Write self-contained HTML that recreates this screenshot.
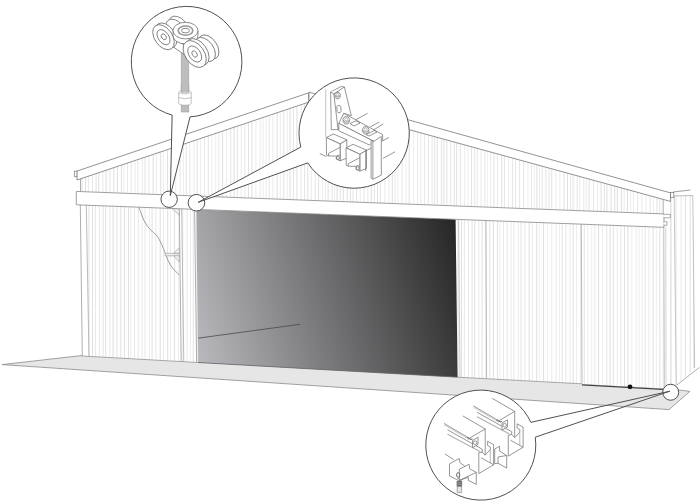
<!DOCTYPE html>
<html><head><meta charset="utf-8"><style>html,body{margin:0;padding:0;background:#fff;width:700px;height:503px;overflow:hidden}svg{display:block}</style></head>
<body>
<svg width="700" height="503" viewBox="0 0 700 503">
<defs><linearGradient id="door" gradientUnits="userSpaceOnUse" x1="150.6" y1="230.5" x2="449.5" y2="142.3"><stop offset="0" stop-color="#bebec2"/><stop offset="1" stop-color="#1e1d1d"/></linearGradient></defs>
<rect width="700" height="503" fill="#fff"/>
<polygon points="2.00,364.60 82.00,355.50 664.00,388.18 690.00,391.40 669.00,409.60" fill="#e6e6e6" stroke="#8a8a8a" stroke-width="0.8" stroke-linejoin="round"/>
<defs>
<clipPath id="cg"><polygon points="80.00,178.75 309.00,102.18 663.50,199.49 663.50,213.90 80.00,191.55"/></clipPath>
<clipPath id="cl"><polygon points="80.00,204.95 197.00,209.43 198.00,362.50 82.00,356.00"/></clipPath>
<clipPath id="cr"><polygon points="455.60,219.34 663.50,227.30 664.50,388.50 457.60,377.20"/></clipPath>
<clipPath id="ce"><polygon points="674.00,196.00 692.80,195.50 694.80,367.60 676.60,385.60 676.00,385.60"/></clipPath>
</defs>
<polygon points="80.00,178.75 309.00,102.18 663.50,199.49 663.50,213.90 80.00,191.55" fill="#fff"/>
<polygon points="80.00,204.95 197.00,209.43 198.00,362.50 82.00,356.00" fill="#fff"/>
<polygon points="455.60,219.34 663.50,227.30 664.50,388.50 457.60,377.20" fill="#fff"/>
<polygon points="674.00,196.00 692.80,195.50 694.80,367.60 676.60,385.60 676.00,385.60" fill="#fff"/>
<g clip-path="url(#cg)"><line x1="82.0" y1="90.0" x2="82.0" y2="230.0" stroke="#d6d6d6" stroke-width="0.7"/>
<line x1="85.5" y1="90.0" x2="85.5" y2="230.0" stroke="#d2d2d2" stroke-width="0.7"/>
<line x1="88.4" y1="90.0" x2="88.4" y2="230.0" stroke="#dedede" stroke-width="0.7"/>
<line x1="92.4" y1="90.0" x2="92.4" y2="230.0" stroke="#dedede" stroke-width="0.7"/>
<line x1="96.1" y1="90.0" x2="96.1" y2="230.0" stroke="#d6d6d6" stroke-width="0.7"/>
<line x1="98.7" y1="90.0" x2="98.7" y2="230.0" stroke="#d2d2d2" stroke-width="0.7"/>
<line x1="102.9" y1="90.0" x2="102.9" y2="230.0" stroke="#dedede" stroke-width="0.7"/>
<line x1="106.1" y1="90.0" x2="106.1" y2="230.0" stroke="#d2d2d2" stroke-width="0.7"/>
<line x1="109.9" y1="90.0" x2="109.9" y2="230.0" stroke="#dadada" stroke-width="0.7"/>
<line x1="113.8" y1="90.0" x2="113.8" y2="230.0" stroke="#d6d6d6" stroke-width="0.7"/>
<line x1="117.4" y1="90.0" x2="117.4" y2="230.0" stroke="#d2d2d2" stroke-width="0.7"/>
<line x1="121.6" y1="90.0" x2="121.6" y2="230.0" stroke="#d2d2d2" stroke-width="0.7"/>
<line x1="124.0" y1="90.0" x2="124.0" y2="230.0" stroke="#e6e6e6" stroke-width="0.7"/>
<line x1="127.5" y1="90.0" x2="127.5" y2="230.0" stroke="#dedede" stroke-width="0.7"/>
<line x1="131.3" y1="90.0" x2="131.3" y2="230.0" stroke="#dedede" stroke-width="0.7"/>
<line x1="135.1" y1="90.0" x2="135.1" y2="230.0" stroke="#e2e2e2" stroke-width="0.7"/>
<line x1="138.0" y1="90.0" x2="138.0" y2="230.0" stroke="#dedede" stroke-width="0.7"/>
<line x1="142.3" y1="90.0" x2="142.3" y2="230.0" stroke="#e2e2e2" stroke-width="0.7"/>
<line x1="145.1" y1="90.0" x2="145.1" y2="230.0" stroke="#d6d6d6" stroke-width="0.7"/>
<line x1="148.9" y1="90.0" x2="148.9" y2="230.0" stroke="#dedede" stroke-width="0.7"/>
<line x1="153.2" y1="90.0" x2="153.2" y2="230.0" stroke="#d2d2d2" stroke-width="0.7"/>
<line x1="156.4" y1="90.0" x2="156.4" y2="230.0" stroke="#e2e2e2" stroke-width="0.7"/>
<line x1="160.7" y1="90.0" x2="160.7" y2="230.0" stroke="#d2d2d2" stroke-width="0.7"/>
<line x1="163.4" y1="90.0" x2="163.4" y2="230.0" stroke="#e6e6e6" stroke-width="0.7"/>
<line x1="167.6" y1="90.0" x2="167.6" y2="230.0" stroke="#d2d2d2" stroke-width="0.7"/>
<line x1="171.5" y1="90.0" x2="171.5" y2="230.0" stroke="#e6e6e6" stroke-width="0.7"/>
<line x1="175.8" y1="90.0" x2="175.8" y2="230.0" stroke="#e2e2e2" stroke-width="0.7"/>
<line x1="180.1" y1="90.0" x2="180.1" y2="230.0" stroke="#dedede" stroke-width="0.7"/>
<line x1="183.5" y1="90.0" x2="183.5" y2="230.0" stroke="#e6e6e6" stroke-width="0.7"/>
<line x1="186.3" y1="90.0" x2="186.3" y2="230.0" stroke="#dadada" stroke-width="0.7"/>
<line x1="189.9" y1="90.0" x2="189.9" y2="230.0" stroke="#dedede" stroke-width="0.7"/>
<line x1="194.0" y1="90.0" x2="194.0" y2="230.0" stroke="#e2e2e2" stroke-width="0.7"/>
<line x1="197.2" y1="90.0" x2="197.2" y2="230.0" stroke="#d2d2d2" stroke-width="0.7"/>
<line x1="200.5" y1="90.0" x2="200.5" y2="230.0" stroke="#e6e6e6" stroke-width="0.7"/>
<line x1="204.5" y1="90.0" x2="204.5" y2="230.0" stroke="#dedede" stroke-width="0.7"/>
<line x1="208.3" y1="90.0" x2="208.3" y2="230.0" stroke="#dadada" stroke-width="0.7"/>
<line x1="211.8" y1="90.0" x2="211.8" y2="230.0" stroke="#e6e6e6" stroke-width="0.7"/>
<line x1="215.7" y1="90.0" x2="215.7" y2="230.0" stroke="#e6e6e6" stroke-width="0.7"/>
<line x1="218.9" y1="90.0" x2="218.9" y2="230.0" stroke="#dedede" stroke-width="0.7"/>
<line x1="222.6" y1="90.0" x2="222.6" y2="230.0" stroke="#d2d2d2" stroke-width="0.7"/>
<line x1="226.6" y1="90.0" x2="226.6" y2="230.0" stroke="#e2e2e2" stroke-width="0.7"/>
<line x1="230.7" y1="90.0" x2="230.7" y2="230.0" stroke="#dadada" stroke-width="0.7"/>
<line x1="234.1" y1="90.0" x2="234.1" y2="230.0" stroke="#d2d2d2" stroke-width="0.7"/>
<line x1="237.4" y1="90.0" x2="237.4" y2="230.0" stroke="#dadada" stroke-width="0.7"/>
<line x1="241.2" y1="90.0" x2="241.2" y2="230.0" stroke="#e2e2e2" stroke-width="0.7"/>
<line x1="244.8" y1="90.0" x2="244.8" y2="230.0" stroke="#dedede" stroke-width="0.7"/>
<line x1="248.5" y1="90.0" x2="248.5" y2="230.0" stroke="#d6d6d6" stroke-width="0.7"/>
<line x1="251.9" y1="90.0" x2="251.9" y2="230.0" stroke="#d2d2d2" stroke-width="0.7"/>
<line x1="255.9" y1="90.0" x2="255.9" y2="230.0" stroke="#e2e2e2" stroke-width="0.7"/>
<line x1="260.1" y1="90.0" x2="260.1" y2="230.0" stroke="#e2e2e2" stroke-width="0.7"/>
<line x1="263.0" y1="90.0" x2="263.0" y2="230.0" stroke="#e2e2e2" stroke-width="0.7"/>
<line x1="266.1" y1="90.0" x2="266.1" y2="230.0" stroke="#e2e2e2" stroke-width="0.7"/>
<line x1="269.2" y1="90.0" x2="269.2" y2="230.0" stroke="#dadada" stroke-width="0.7"/>
<line x1="272.9" y1="90.0" x2="272.9" y2="230.0" stroke="#e2e2e2" stroke-width="0.7"/>
<line x1="277.2" y1="90.0" x2="277.2" y2="230.0" stroke="#d2d2d2" stroke-width="0.7"/>
<line x1="280.4" y1="90.0" x2="280.4" y2="230.0" stroke="#e6e6e6" stroke-width="0.7"/>
<line x1="283.8" y1="90.0" x2="283.8" y2="230.0" stroke="#d6d6d6" stroke-width="0.7"/>
<line x1="287.2" y1="90.0" x2="287.2" y2="230.0" stroke="#e2e2e2" stroke-width="0.7"/>
<line x1="290.0" y1="90.0" x2="290.0" y2="230.0" stroke="#d2d2d2" stroke-width="0.7"/>
<line x1="293.4" y1="90.0" x2="293.4" y2="230.0" stroke="#dadada" stroke-width="0.7"/>
<line x1="296.9" y1="90.0" x2="296.9" y2="230.0" stroke="#d6d6d6" stroke-width="0.7"/>
<line x1="301.2" y1="90.0" x2="301.2" y2="230.0" stroke="#dedede" stroke-width="0.7"/>
<line x1="304.6" y1="90.0" x2="304.6" y2="230.0" stroke="#dadada" stroke-width="0.7"/>
<line x1="307.8" y1="90.0" x2="307.8" y2="230.0" stroke="#d2d2d2" stroke-width="0.7"/>
<line x1="311.3" y1="90.0" x2="311.3" y2="230.0" stroke="#e2e2e2" stroke-width="0.7"/>
<line x1="315.3" y1="90.0" x2="315.3" y2="230.0" stroke="#dadada" stroke-width="0.7"/>
<line x1="318.6" y1="90.0" x2="318.6" y2="230.0" stroke="#d2d2d2" stroke-width="0.7"/>
<line x1="322.6" y1="90.0" x2="322.6" y2="230.0" stroke="#e6e6e6" stroke-width="0.7"/>
<line x1="325.4" y1="90.0" x2="325.4" y2="230.0" stroke="#e2e2e2" stroke-width="0.7"/>
<line x1="328.1" y1="90.0" x2="328.1" y2="230.0" stroke="#d2d2d2" stroke-width="0.7"/>
<line x1="332.1" y1="90.0" x2="332.1" y2="230.0" stroke="#dadada" stroke-width="0.7"/>
<line x1="334.6" y1="90.0" x2="334.6" y2="230.0" stroke="#e6e6e6" stroke-width="0.7"/>
<line x1="337.1" y1="90.0" x2="337.1" y2="230.0" stroke="#d2d2d2" stroke-width="0.7"/>
<line x1="340.4" y1="90.0" x2="340.4" y2="230.0" stroke="#dadada" stroke-width="0.7"/>
<line x1="343.3" y1="90.0" x2="343.3" y2="230.0" stroke="#d2d2d2" stroke-width="0.7"/>
<line x1="347.3" y1="90.0" x2="347.3" y2="230.0" stroke="#d6d6d6" stroke-width="0.7"/>
<line x1="350.4" y1="90.0" x2="350.4" y2="230.0" stroke="#d2d2d2" stroke-width="0.7"/>
<line x1="353.1" y1="90.0" x2="353.1" y2="230.0" stroke="#dadada" stroke-width="0.7"/>
<line x1="356.6" y1="90.0" x2="356.6" y2="230.0" stroke="#d6d6d6" stroke-width="0.7"/>
<line x1="360.3" y1="90.0" x2="360.3" y2="230.0" stroke="#e6e6e6" stroke-width="0.7"/>
<line x1="364.1" y1="90.0" x2="364.1" y2="230.0" stroke="#dedede" stroke-width="0.7"/>
<line x1="367.9" y1="90.0" x2="367.9" y2="230.0" stroke="#dedede" stroke-width="0.7"/>
<line x1="371.3" y1="90.0" x2="371.3" y2="230.0" stroke="#d2d2d2" stroke-width="0.7"/>
<line x1="374.3" y1="90.0" x2="374.3" y2="230.0" stroke="#dadada" stroke-width="0.7"/>
<line x1="377.5" y1="90.0" x2="377.5" y2="230.0" stroke="#d6d6d6" stroke-width="0.7"/>
<line x1="380.4" y1="90.0" x2="380.4" y2="230.0" stroke="#dadada" stroke-width="0.7"/>
<line x1="384.7" y1="90.0" x2="384.7" y2="230.0" stroke="#e2e2e2" stroke-width="0.7"/>
<line x1="389.0" y1="90.0" x2="389.0" y2="230.0" stroke="#e2e2e2" stroke-width="0.7"/>
<line x1="392.3" y1="90.0" x2="392.3" y2="230.0" stroke="#d2d2d2" stroke-width="0.7"/>
<line x1="395.1" y1="90.0" x2="395.1" y2="230.0" stroke="#dedede" stroke-width="0.7"/>
<line x1="397.8" y1="90.0" x2="397.8" y2="230.0" stroke="#e6e6e6" stroke-width="0.7"/>
<line x1="402.1" y1="90.0" x2="402.1" y2="230.0" stroke="#dedede" stroke-width="0.7"/>
<line x1="406.0" y1="90.0" x2="406.0" y2="230.0" stroke="#e6e6e6" stroke-width="0.7"/>
<line x1="409.2" y1="90.0" x2="409.2" y2="230.0" stroke="#d6d6d6" stroke-width="0.7"/>
<line x1="413.6" y1="90.0" x2="413.6" y2="230.0" stroke="#e6e6e6" stroke-width="0.7"/>
<line x1="417.6" y1="90.0" x2="417.6" y2="230.0" stroke="#e2e2e2" stroke-width="0.7"/>
<line x1="420.9" y1="90.0" x2="420.9" y2="230.0" stroke="#e2e2e2" stroke-width="0.7"/>
<line x1="424.6" y1="90.0" x2="424.6" y2="230.0" stroke="#dedede" stroke-width="0.7"/>
<line x1="428.4" y1="90.0" x2="428.4" y2="230.0" stroke="#dadada" stroke-width="0.7"/>
<line x1="432.1" y1="90.0" x2="432.1" y2="230.0" stroke="#dedede" stroke-width="0.7"/>
<line x1="434.6" y1="90.0" x2="434.6" y2="230.0" stroke="#dadada" stroke-width="0.7"/>
<line x1="437.2" y1="90.0" x2="437.2" y2="230.0" stroke="#d6d6d6" stroke-width="0.7"/>
<line x1="441.4" y1="90.0" x2="441.4" y2="230.0" stroke="#dadada" stroke-width="0.7"/>
<line x1="443.9" y1="90.0" x2="443.9" y2="230.0" stroke="#d2d2d2" stroke-width="0.7"/>
<line x1="446.9" y1="90.0" x2="446.9" y2="230.0" stroke="#dadada" stroke-width="0.7"/>
<line x1="450.8" y1="90.0" x2="450.8" y2="230.0" stroke="#dedede" stroke-width="0.7"/>
<line x1="454.3" y1="90.0" x2="454.3" y2="230.0" stroke="#d6d6d6" stroke-width="0.7"/>
<line x1="456.7" y1="90.0" x2="456.7" y2="230.0" stroke="#d2d2d2" stroke-width="0.7"/>
<line x1="460.3" y1="90.0" x2="460.3" y2="230.0" stroke="#d6d6d6" stroke-width="0.7"/>
<line x1="464.7" y1="90.0" x2="464.7" y2="230.0" stroke="#e2e2e2" stroke-width="0.7"/>
<line x1="468.0" y1="90.0" x2="468.0" y2="230.0" stroke="#e6e6e6" stroke-width="0.7"/>
<line x1="471.6" y1="90.0" x2="471.6" y2="230.0" stroke="#d2d2d2" stroke-width="0.7"/>
<line x1="474.8" y1="90.0" x2="474.8" y2="230.0" stroke="#dadada" stroke-width="0.7"/>
<line x1="477.4" y1="90.0" x2="477.4" y2="230.0" stroke="#e2e2e2" stroke-width="0.7"/>
<line x1="481.1" y1="90.0" x2="481.1" y2="230.0" stroke="#dedede" stroke-width="0.7"/>
<line x1="484.7" y1="90.0" x2="484.7" y2="230.0" stroke="#dedede" stroke-width="0.7"/>
<line x1="487.3" y1="90.0" x2="487.3" y2="230.0" stroke="#e6e6e6" stroke-width="0.7"/>
<line x1="490.5" y1="90.0" x2="490.5" y2="230.0" stroke="#e2e2e2" stroke-width="0.7"/>
<line x1="493.9" y1="90.0" x2="493.9" y2="230.0" stroke="#dadada" stroke-width="0.7"/>
<line x1="497.5" y1="90.0" x2="497.5" y2="230.0" stroke="#dedede" stroke-width="0.7"/>
<line x1="501.7" y1="90.0" x2="501.7" y2="230.0" stroke="#d2d2d2" stroke-width="0.7"/>
<line x1="504.4" y1="90.0" x2="504.4" y2="230.0" stroke="#dadada" stroke-width="0.7"/>
<line x1="508.5" y1="90.0" x2="508.5" y2="230.0" stroke="#e2e2e2" stroke-width="0.7"/>
<line x1="512.4" y1="90.0" x2="512.4" y2="230.0" stroke="#dadada" stroke-width="0.7"/>
<line x1="515.7" y1="90.0" x2="515.7" y2="230.0" stroke="#dadada" stroke-width="0.7"/>
<line x1="519.5" y1="90.0" x2="519.5" y2="230.0" stroke="#dedede" stroke-width="0.7"/>
<line x1="523.7" y1="90.0" x2="523.7" y2="230.0" stroke="#dadada" stroke-width="0.7"/>
<line x1="528.0" y1="90.0" x2="528.0" y2="230.0" stroke="#e6e6e6" stroke-width="0.7"/>
<line x1="531.5" y1="90.0" x2="531.5" y2="230.0" stroke="#e2e2e2" stroke-width="0.7"/>
<line x1="534.3" y1="90.0" x2="534.3" y2="230.0" stroke="#e6e6e6" stroke-width="0.7"/>
<line x1="536.8" y1="90.0" x2="536.8" y2="230.0" stroke="#d6d6d6" stroke-width="0.7"/>
<line x1="539.5" y1="90.0" x2="539.5" y2="230.0" stroke="#e2e2e2" stroke-width="0.7"/>
<line x1="542.3" y1="90.0" x2="542.3" y2="230.0" stroke="#dadada" stroke-width="0.7"/>
<line x1="545.9" y1="90.0" x2="545.9" y2="230.0" stroke="#dadada" stroke-width="0.7"/>
<line x1="549.0" y1="90.0" x2="549.0" y2="230.0" stroke="#dadada" stroke-width="0.7"/>
<line x1="551.7" y1="90.0" x2="551.7" y2="230.0" stroke="#d6d6d6" stroke-width="0.7"/>
<line x1="555.8" y1="90.0" x2="555.8" y2="230.0" stroke="#e2e2e2" stroke-width="0.7"/>
<line x1="559.8" y1="90.0" x2="559.8" y2="230.0" stroke="#e6e6e6" stroke-width="0.7"/>
<line x1="564.0" y1="90.0" x2="564.0" y2="230.0" stroke="#d6d6d6" stroke-width="0.7"/>
<line x1="567.5" y1="90.0" x2="567.5" y2="230.0" stroke="#d2d2d2" stroke-width="0.7"/>
<line x1="570.6" y1="90.0" x2="570.6" y2="230.0" stroke="#dedede" stroke-width="0.7"/>
<line x1="573.1" y1="90.0" x2="573.1" y2="230.0" stroke="#d6d6d6" stroke-width="0.7"/>
<line x1="577.2" y1="90.0" x2="577.2" y2="230.0" stroke="#dadada" stroke-width="0.7"/>
<line x1="579.8" y1="90.0" x2="579.8" y2="230.0" stroke="#e2e2e2" stroke-width="0.7"/>
<line x1="583.8" y1="90.0" x2="583.8" y2="230.0" stroke="#dedede" stroke-width="0.7"/>
<line x1="586.3" y1="90.0" x2="586.3" y2="230.0" stroke="#e2e2e2" stroke-width="0.7"/>
<line x1="589.1" y1="90.0" x2="589.1" y2="230.0" stroke="#d2d2d2" stroke-width="0.7"/>
<line x1="593.5" y1="90.0" x2="593.5" y2="230.0" stroke="#dadada" stroke-width="0.7"/>
<line x1="597.6" y1="90.0" x2="597.6" y2="230.0" stroke="#e2e2e2" stroke-width="0.7"/>
<line x1="601.1" y1="90.0" x2="601.1" y2="230.0" stroke="#d2d2d2" stroke-width="0.7"/>
<line x1="604.4" y1="90.0" x2="604.4" y2="230.0" stroke="#dadada" stroke-width="0.7"/>
<line x1="607.0" y1="90.0" x2="607.0" y2="230.0" stroke="#d2d2d2" stroke-width="0.7"/>
<line x1="611.1" y1="90.0" x2="611.1" y2="230.0" stroke="#d2d2d2" stroke-width="0.7"/>
<line x1="614.7" y1="90.0" x2="614.7" y2="230.0" stroke="#d2d2d2" stroke-width="0.7"/>
<line x1="617.3" y1="90.0" x2="617.3" y2="230.0" stroke="#d2d2d2" stroke-width="0.7"/>
<line x1="621.4" y1="90.0" x2="621.4" y2="230.0" stroke="#d2d2d2" stroke-width="0.7"/>
<line x1="624.1" y1="90.0" x2="624.1" y2="230.0" stroke="#e2e2e2" stroke-width="0.7"/>
<line x1="627.4" y1="90.0" x2="627.4" y2="230.0" stroke="#d2d2d2" stroke-width="0.7"/>
<line x1="630.7" y1="90.0" x2="630.7" y2="230.0" stroke="#e6e6e6" stroke-width="0.7"/>
<line x1="633.5" y1="90.0" x2="633.5" y2="230.0" stroke="#e6e6e6" stroke-width="0.7"/>
<line x1="637.6" y1="90.0" x2="637.6" y2="230.0" stroke="#dedede" stroke-width="0.7"/>
<line x1="641.9" y1="90.0" x2="641.9" y2="230.0" stroke="#dedede" stroke-width="0.7"/>
<line x1="645.9" y1="90.0" x2="645.9" y2="230.0" stroke="#e2e2e2" stroke-width="0.7"/>
<line x1="650.1" y1="90.0" x2="650.1" y2="230.0" stroke="#dadada" stroke-width="0.7"/>
<line x1="653.6" y1="90.0" x2="653.6" y2="230.0" stroke="#e6e6e6" stroke-width="0.7"/>
<line x1="657.0" y1="90.0" x2="657.0" y2="230.0" stroke="#d2d2d2" stroke-width="0.7"/>
<line x1="659.8" y1="90.0" x2="659.8" y2="230.0" stroke="#dadada" stroke-width="0.7"/>
<line x1="662.3" y1="90.0" x2="662.3" y2="230.0" stroke="#d2d2d2" stroke-width="0.7"/></g>
<g clip-path="url(#cl)"><line x1="89.0" y1="200.0" x2="89.0" y2="370.0" stroke="#d6d6d6" stroke-width="0.7"/>
<line x1="92.5" y1="200.0" x2="92.5" y2="370.0" stroke="#d2d2d2" stroke-width="0.7"/>
<line x1="95.4" y1="200.0" x2="95.4" y2="370.0" stroke="#dedede" stroke-width="0.7"/>
<line x1="99.4" y1="200.0" x2="99.4" y2="370.0" stroke="#dedede" stroke-width="0.7"/>
<line x1="103.1" y1="200.0" x2="103.1" y2="370.0" stroke="#d6d6d6" stroke-width="0.7"/>
<line x1="105.7" y1="200.0" x2="105.7" y2="370.0" stroke="#d2d2d2" stroke-width="0.7"/>
<line x1="109.9" y1="200.0" x2="109.9" y2="370.0" stroke="#dedede" stroke-width="0.7"/>
<line x1="113.1" y1="200.0" x2="113.1" y2="370.0" stroke="#d2d2d2" stroke-width="0.7"/>
<line x1="116.9" y1="200.0" x2="116.9" y2="370.0" stroke="#dadada" stroke-width="0.7"/>
<line x1="120.8" y1="200.0" x2="120.8" y2="370.0" stroke="#d6d6d6" stroke-width="0.7"/>
<line x1="124.4" y1="200.0" x2="124.4" y2="370.0" stroke="#d2d2d2" stroke-width="0.7"/>
<line x1="128.6" y1="200.0" x2="128.6" y2="370.0" stroke="#d2d2d2" stroke-width="0.7"/>
<line x1="131.0" y1="200.0" x2="131.0" y2="370.0" stroke="#e6e6e6" stroke-width="0.7"/>
<line x1="134.5" y1="200.0" x2="134.5" y2="370.0" stroke="#dedede" stroke-width="0.7"/>
<line x1="138.3" y1="200.0" x2="138.3" y2="370.0" stroke="#dedede" stroke-width="0.7"/>
<line x1="142.1" y1="200.0" x2="142.1" y2="370.0" stroke="#e2e2e2" stroke-width="0.7"/>
<line x1="145.0" y1="200.0" x2="145.0" y2="370.0" stroke="#dedede" stroke-width="0.7"/>
<line x1="149.3" y1="200.0" x2="149.3" y2="370.0" stroke="#e2e2e2" stroke-width="0.7"/>
<line x1="152.1" y1="200.0" x2="152.1" y2="370.0" stroke="#d6d6d6" stroke-width="0.7"/>
<line x1="155.9" y1="200.0" x2="155.9" y2="370.0" stroke="#dedede" stroke-width="0.7"/>
<line x1="160.2" y1="200.0" x2="160.2" y2="370.0" stroke="#d2d2d2" stroke-width="0.7"/>
<line x1="163.4" y1="200.0" x2="163.4" y2="370.0" stroke="#e2e2e2" stroke-width="0.7"/>
<line x1="167.7" y1="200.0" x2="167.7" y2="370.0" stroke="#d2d2d2" stroke-width="0.7"/>
<line x1="170.4" y1="200.0" x2="170.4" y2="370.0" stroke="#e6e6e6" stroke-width="0.7"/>
<line x1="174.6" y1="200.0" x2="174.6" y2="370.0" stroke="#d2d2d2" stroke-width="0.7"/>
<line x1="178.5" y1="200.0" x2="178.5" y2="370.0" stroke="#e6e6e6" stroke-width="0.7"/>
<line x1="182.8" y1="200.0" x2="182.8" y2="370.0" stroke="#e2e2e2" stroke-width="0.7"/>
<line x1="187.1" y1="200.0" x2="187.1" y2="370.0" stroke="#dedede" stroke-width="0.7"/>
<line x1="190.5" y1="200.0" x2="190.5" y2="370.0" stroke="#e6e6e6" stroke-width="0.7"/>
<line x1="193.3" y1="200.0" x2="193.3" y2="370.0" stroke="#dadada" stroke-width="0.7"/>
<line x1="196.9" y1="200.0" x2="196.9" y2="370.0" stroke="#dedede" stroke-width="0.7"/></g>
<g clip-path="url(#cr)"><line x1="458.0" y1="210.0" x2="458.0" y2="395.0" stroke="#d6d6d6" stroke-width="0.7"/>
<line x1="461.5" y1="210.0" x2="461.5" y2="395.0" stroke="#d2d2d2" stroke-width="0.7"/>
<line x1="464.4" y1="210.0" x2="464.4" y2="395.0" stroke="#dedede" stroke-width="0.7"/>
<line x1="468.4" y1="210.0" x2="468.4" y2="395.0" stroke="#dedede" stroke-width="0.7"/>
<line x1="472.1" y1="210.0" x2="472.1" y2="395.0" stroke="#d6d6d6" stroke-width="0.7"/>
<line x1="474.7" y1="210.0" x2="474.7" y2="395.0" stroke="#d2d2d2" stroke-width="0.7"/>
<line x1="478.9" y1="210.0" x2="478.9" y2="395.0" stroke="#dedede" stroke-width="0.7"/>
<line x1="482.1" y1="210.0" x2="482.1" y2="395.0" stroke="#d2d2d2" stroke-width="0.7"/>
<line x1="485.9" y1="210.0" x2="485.9" y2="395.0" stroke="#dadada" stroke-width="0.7"/>
<line x1="489.8" y1="210.0" x2="489.8" y2="395.0" stroke="#d6d6d6" stroke-width="0.7"/>
<line x1="493.4" y1="210.0" x2="493.4" y2="395.0" stroke="#d2d2d2" stroke-width="0.7"/>
<line x1="497.6" y1="210.0" x2="497.6" y2="395.0" stroke="#d2d2d2" stroke-width="0.7"/>
<line x1="500.0" y1="210.0" x2="500.0" y2="395.0" stroke="#e6e6e6" stroke-width="0.7"/>
<line x1="503.5" y1="210.0" x2="503.5" y2="395.0" stroke="#dedede" stroke-width="0.7"/>
<line x1="507.3" y1="210.0" x2="507.3" y2="395.0" stroke="#dedede" stroke-width="0.7"/>
<line x1="511.1" y1="210.0" x2="511.1" y2="395.0" stroke="#e2e2e2" stroke-width="0.7"/>
<line x1="514.0" y1="210.0" x2="514.0" y2="395.0" stroke="#dedede" stroke-width="0.7"/>
<line x1="518.3" y1="210.0" x2="518.3" y2="395.0" stroke="#e2e2e2" stroke-width="0.7"/>
<line x1="521.1" y1="210.0" x2="521.1" y2="395.0" stroke="#d6d6d6" stroke-width="0.7"/>
<line x1="524.9" y1="210.0" x2="524.9" y2="395.0" stroke="#dedede" stroke-width="0.7"/>
<line x1="529.2" y1="210.0" x2="529.2" y2="395.0" stroke="#d2d2d2" stroke-width="0.7"/>
<line x1="532.4" y1="210.0" x2="532.4" y2="395.0" stroke="#e2e2e2" stroke-width="0.7"/>
<line x1="536.7" y1="210.0" x2="536.7" y2="395.0" stroke="#d2d2d2" stroke-width="0.7"/>
<line x1="539.4" y1="210.0" x2="539.4" y2="395.0" stroke="#e6e6e6" stroke-width="0.7"/>
<line x1="543.6" y1="210.0" x2="543.6" y2="395.0" stroke="#d2d2d2" stroke-width="0.7"/>
<line x1="547.5" y1="210.0" x2="547.5" y2="395.0" stroke="#e6e6e6" stroke-width="0.7"/>
<line x1="551.8" y1="210.0" x2="551.8" y2="395.0" stroke="#e2e2e2" stroke-width="0.7"/>
<line x1="556.1" y1="210.0" x2="556.1" y2="395.0" stroke="#dedede" stroke-width="0.7"/>
<line x1="559.5" y1="210.0" x2="559.5" y2="395.0" stroke="#e6e6e6" stroke-width="0.7"/>
<line x1="562.3" y1="210.0" x2="562.3" y2="395.0" stroke="#dadada" stroke-width="0.7"/>
<line x1="565.9" y1="210.0" x2="565.9" y2="395.0" stroke="#dedede" stroke-width="0.7"/>
<line x1="570.0" y1="210.0" x2="570.0" y2="395.0" stroke="#e2e2e2" stroke-width="0.7"/>
<line x1="573.2" y1="210.0" x2="573.2" y2="395.0" stroke="#d2d2d2" stroke-width="0.7"/>
<line x1="576.5" y1="210.0" x2="576.5" y2="395.0" stroke="#e6e6e6" stroke-width="0.7"/>
<line x1="580.5" y1="210.0" x2="580.5" y2="395.0" stroke="#dedede" stroke-width="0.7"/>
<line x1="584.3" y1="210.0" x2="584.3" y2="395.0" stroke="#dadada" stroke-width="0.7"/>
<line x1="587.8" y1="210.0" x2="587.8" y2="395.0" stroke="#e6e6e6" stroke-width="0.7"/>
<line x1="591.7" y1="210.0" x2="591.7" y2="395.0" stroke="#e6e6e6" stroke-width="0.7"/>
<line x1="594.9" y1="210.0" x2="594.9" y2="395.0" stroke="#dedede" stroke-width="0.7"/>
<line x1="598.6" y1="210.0" x2="598.6" y2="395.0" stroke="#d2d2d2" stroke-width="0.7"/>
<line x1="602.6" y1="210.0" x2="602.6" y2="395.0" stroke="#e2e2e2" stroke-width="0.7"/>
<line x1="606.7" y1="210.0" x2="606.7" y2="395.0" stroke="#dadada" stroke-width="0.7"/>
<line x1="610.1" y1="210.0" x2="610.1" y2="395.0" stroke="#d2d2d2" stroke-width="0.7"/>
<line x1="613.4" y1="210.0" x2="613.4" y2="395.0" stroke="#dadada" stroke-width="0.7"/>
<line x1="617.2" y1="210.0" x2="617.2" y2="395.0" stroke="#e2e2e2" stroke-width="0.7"/>
<line x1="620.8" y1="210.0" x2="620.8" y2="395.0" stroke="#dedede" stroke-width="0.7"/>
<line x1="624.5" y1="210.0" x2="624.5" y2="395.0" stroke="#d6d6d6" stroke-width="0.7"/>
<line x1="627.9" y1="210.0" x2="627.9" y2="395.0" stroke="#d2d2d2" stroke-width="0.7"/>
<line x1="631.9" y1="210.0" x2="631.9" y2="395.0" stroke="#e2e2e2" stroke-width="0.7"/>
<line x1="636.1" y1="210.0" x2="636.1" y2="395.0" stroke="#e2e2e2" stroke-width="0.7"/>
<line x1="639.0" y1="210.0" x2="639.0" y2="395.0" stroke="#e2e2e2" stroke-width="0.7"/>
<line x1="642.1" y1="210.0" x2="642.1" y2="395.0" stroke="#e2e2e2" stroke-width="0.7"/>
<line x1="645.2" y1="210.0" x2="645.2" y2="395.0" stroke="#dadada" stroke-width="0.7"/>
<line x1="648.9" y1="210.0" x2="648.9" y2="395.0" stroke="#e2e2e2" stroke-width="0.7"/>
<line x1="653.2" y1="210.0" x2="653.2" y2="395.0" stroke="#d2d2d2" stroke-width="0.7"/>
<line x1="656.4" y1="210.0" x2="656.4" y2="395.0" stroke="#e6e6e6" stroke-width="0.7"/>
<line x1="659.8" y1="210.0" x2="659.8" y2="395.0" stroke="#d6d6d6" stroke-width="0.7"/>
<line x1="663.2" y1="210.0" x2="663.2" y2="395.0" stroke="#e2e2e2" stroke-width="0.7"/></g>
<g clip-path="url(#ce)"><line x1="676.0" y1="190.0" x2="676.0" y2="395.0" stroke="#dadada" stroke-width="0.7"/>
<line x1="681.1" y1="190.0" x2="681.1" y2="395.0" stroke="#dedede" stroke-width="0.7"/>
<line x1="685.4" y1="190.0" x2="685.4" y2="395.0" stroke="#d2d2d2" stroke-width="0.7"/>
<line x1="690.2" y1="190.0" x2="690.2" y2="395.0" stroke="#d2d2d2" stroke-width="0.7"/>
<line x1="693.9" y1="190.0" x2="693.9" y2="395.0" stroke="#d2d2d2" stroke-width="0.7"/></g>
<line x1="80.50" y1="178.75" x2="80.50" y2="191.55" stroke="#999" stroke-width="0.8"/>
<line x1="663.50" y1="199.49" x2="663.50" y2="213.90" stroke="#b8b8b8" stroke-width="0.8"/>
<line x1="663.80" y1="227.31" x2="664.30" y2="388.50" stroke="#b0b0b0" stroke-width="0.8"/>
<line x1="665.80" y1="227.39" x2="666.00" y2="388.50" stroke="#c8c8c8" stroke-width="0.8"/>
<line x1="670.90" y1="201.40" x2="670.90" y2="387.00" stroke="#cccccc" stroke-width="0.8"/>
<line x1="80.30" y1="204.96" x2="82.30" y2="356.02" stroke="#999" stroke-width="0.8"/>
<line x1="86.30" y1="205.19" x2="89.00" y2="356.39" stroke="#aaa" stroke-width="0.8"/>
<line x1="179.30" y1="208.76" x2="181.20" y2="361.49" stroke="#999" stroke-width="0.8"/>
<line x1="181.70" y1="208.85" x2="183.80" y2="361.63" stroke="#aaa" stroke-width="0.8"/>
<line x1="194.60" y1="209.34" x2="196.60" y2="362.34" stroke="#999" stroke-width="0.8"/>
<path d="M138.7,207.2 C141,212 143,220 146,224 C149,229 153,232 156.2,235 C159,238 162,245 165,252.5 C167,258 169,264 172.9,268.4 C175,271 177,273 179.3,274.7" fill="none" stroke="#777" stroke-width="0.7"/>
<path d="M172.1,208.7 L179.3,208.7 L179.3,215.1 Z" fill="#f2f2f2" stroke="#999" stroke-width="0.6"/>
<path d="M165,253.3 L179.3,253.3 L179.3,255.8 L165,255.8 Z" fill="#eee" stroke="#999" stroke-width="0.6"/>
<path d="M173.7,253.3 L179.3,247.7 L179.3,253.3 Z M173.7,255.8 L179.3,262 L179.3,255.8 Z" fill="#f2f2f2" stroke="#999" stroke-width="0.6"/>
<line x1="458.60" y1="219.45" x2="460.00" y2="376.90" stroke="#bbb" stroke-width="0.8"/>
<line x1="485.90" y1="220.50" x2="486.60" y2="378.37" stroke="#aaa" stroke-width="0.8"/>
<line x1="581.30" y1="224.15" x2="582.00" y2="383.65" stroke="#aaa" stroke-width="0.8"/>
<line x1="674.20" y1="196.00" x2="676.20" y2="385.60" stroke="#b8b8b8" stroke-width="0.8"/>
<line x1="692.80" y1="195.50" x2="694.60" y2="367.80" stroke="#b4b4b4" stroke-width="0.8"/>
<line x1="676.60" y1="385.20" x2="699.50" y2="367.30" stroke="#999" stroke-width="0.8"/>
<line x1="673.00" y1="192.00" x2="690.50" y2="190.00" stroke="#888" stroke-width="0.8"/>
<line x1="674.00" y1="196.00" x2="692.80" y2="195.50" stroke="#aaa" stroke-width="0.8"/>
<polygon points="196.40,209.41 455.60,219.34 457.60,377.20 198.00,362.50" fill="url(#door)"/>
<line x1="198.00" y1="338.20" x2="300.00" y2="324.30" stroke="#4a4a4a" stroke-width="0.8"/>
<line x1="198.00" y1="362.50" x2="457.60" y2="377.20" stroke="#666" stroke-width="0.8"/>
<line x1="82.00" y1="356.00" x2="198.00" y2="362.50" stroke="#999" stroke-width="0.8"/>
<line x1="457.60" y1="377.20" x2="582.00" y2="383.80" stroke="#999" stroke-width="0.8"/>
<line x1="582.00" y1="384.90" x2="663.00" y2="389.40" stroke="#444" stroke-width="1.3"/>
<circle cx="630" cy="386.8" r="2.4" fill="#111"/>
<polygon points="76.30,191.41 664.00,213.92 664.00,227.32 76.30,204.81" fill="#fff" stroke="#888" stroke-width="0.8"/>
<path d="M663.4 214.3 h7 v3.5 h-7 M663.4 221.8 h3.6 v3.4 h-3.6" fill="#fff" stroke="#888" stroke-width="0.7"/>
<polygon points="76.90,171.10 308.60,92.88 309.00,102.04 77.00,180.00" fill="#fff" stroke="#777" stroke-width="0.8"/>
<rect x="74.3" y="171.1" width="2.6" height="5.4" fill="#fff" stroke="#777" stroke-width="0.7"/>
<polygon points="309.00,92.16 670.60,192.91 670.60,201.43 309.00,102.18" fill="#fff" stroke="#777" stroke-width="0.8"/>
<rect x="670.6" y="192.6" width="3.2" height="5" fill="#fff" stroke="#777" stroke-width="0.7"/>
<path d="M172.13,115.07 A55.3,55.3 0 1 1 190.06,116.89 L170.3,195.6 Z" fill="#fff" stroke="none"/>
<path d="M172.13,115.07 A55.3,55.3 0 1 1 190.06,116.89" fill="none" stroke="#505050" stroke-width="1.0"/>
<circle cx="169.15" cy="199.25" r="8.2" fill="#fff" stroke="#505050" stroke-width="1.0"/>
<path d="M172.13,115.07 L170.3,195.6 L190.06,116.89" fill="none" stroke="#505050" stroke-width="1.0" stroke-linejoin="miter" stroke-miterlimit="20"/>
<path d="M300.81,147.07 A55.15,55.15 0 1 1 307.75,162.87 L198.2,202.3 Z" fill="#fff" stroke="none"/>
<path d="M300.81,147.07 A55.15,55.15 0 1 1 307.75,162.87" fill="none" stroke="#505050" stroke-width="1.0"/>
<circle cx="196.45" cy="202.75" r="8.3" fill="#fff" stroke="#505050" stroke-width="1.0"/>
<path d="M300.81,147.07 L198.2,202.3 L307.75,162.87" fill="none" stroke="#505050" stroke-width="1.0" stroke-linejoin="miter" stroke-miterlimit="20"/>
<path d="M535.23,437.21 A55.0,55.0 0 1 1 530.87,422.35 Z" fill="#fff" stroke="none"/>
<path d="M535.23,437.21 A55.0,55.0 0 1 1 530.87,422.35" fill="none" stroke="#505050" stroke-width="1.0"/>
<circle cx="670.7" cy="392.25" r="8.0" fill="#fff" stroke="#505050" stroke-width="1.0"/>
<path d="M535.23,437.21 L669.8,391.2 L530.87,422.35" fill="none" stroke="#505050" stroke-width="1.0" stroke-linejoin="miter" stroke-miterlimit="20"/>

<g stroke="#666" stroke-width="0.75" fill="#fff">
<rect x="181.2" y="48" width="7.6" height="64" fill="#bdbdbd" stroke="#a0a0a0" stroke-width="0.6"/>
<path d="M178.7,92.5 Q178.7,90.3 185,90.3 Q191.2,90.3 191.2,92.5 L191.2,103 Q191.2,105.2 185,105.2 Q178.7,105.2 178.7,103 Z" stroke="#9a9a9a" stroke-width="0.6"/>
<path d="M178.7,97.6 Q185,100 191.2,97.6" fill="none" stroke="#9a9a9a" stroke-width="0.6"/>
<path d="M178.7,93 Q185,95.2 191.2,93" fill="none" stroke="#b0b0b0" stroke-width="0.5"/>
<rect x="181.2" y="85" width="7.6" height="7.5" fill="#bdbdbd" stroke="none"/>
<path d="M181.2,85 v7.6 Q185,94 188.8,92.6 v-7.6" fill="none" stroke="#a0a0a0" stroke-width="0.6"/>
<ellipse cx="179" cy="27" rx="12.5" ry="8" transform="rotate(50 179 27)"/>
<ellipse cx="176" cy="30" rx="12.5" ry="8" transform="rotate(50 176 30)"/>
<ellipse cx="208.5" cy="47" rx="13.5" ry="8.5" transform="rotate(55 208.5 47)"/>
<ellipse cx="205" cy="49.5" rx="13.5" ry="8.5" transform="rotate(55 205 49.5)"/>
<path d="M176,40 L196,52 L192,60 L172,46 Z" fill="#fff"/>
<ellipse cx="166" cy="35.5" rx="14" ry="8.8" transform="rotate(55 166 35.5)"/>
<ellipse cx="163.5" cy="37.2" rx="14" ry="8.8" transform="rotate(55 163.5 37.2)"/>
<ellipse cx="163.5" cy="37.2" rx="8.5" ry="5.3" transform="rotate(55 163.5 37.2)"/>
<ellipse cx="163.8" cy="36.8" rx="3.2" ry="2.2" transform="rotate(55 163.8 36.8)"/>
<path d="M173,30.6 L173,35.6 A12.5,8.3 0 0 0 198,35.6 L198,30.6" />
<ellipse cx="185.5" cy="30.6" rx="12.5" ry="8.3"/>
<ellipse cx="185.5" cy="30.6" rx="7.3" ry="4.6" stroke="#999" stroke-width="1.6"/>
<ellipse cx="185.5" cy="30.6" rx="4" ry="2.3"/>
<ellipse cx="197.5" cy="52" rx="15" ry="9.5" transform="rotate(55 197.5 52)"/>
<ellipse cx="194.7" cy="54" rx="15" ry="9.5" transform="rotate(55 194.7 54)"/>
<ellipse cx="194.7" cy="54" rx="9" ry="5.7" transform="rotate(55 194.7 54)"/>
<ellipse cx="194.6" cy="54" rx="3.4" ry="2.3" transform="rotate(55 194.6 54)"/>
</g>


<g stroke="#6a6a6a" stroke-width="0.7" fill="#fff" stroke-linejoin="round">
<line x1="325.7" y1="89.5" x2="325.7" y2="137" stroke="#aaa"/>
<line x1="355" y1="120.2" x2="367.6" y2="113.3"/>
<line x1="370" y1="127" x2="379.4" y2="122"/>
<line x1="373.2" y1="130.2" x2="383.2" y2="123.9"/>
<line x1="383" y1="140.5" x2="389" y2="137.5"/>
<line x1="383" y1="158.4" x2="395" y2="151.8"/>
<line x1="319.8" y1="153.6" x2="326.5" y2="156.6"/>
<path d="M330.6,92 L341.3,86.4 L344.4,87 L351.3,115.8 L343.8,113.3 L338.1,129.6 L331.3,129.6 Z"/>
<path d="M330.6,92 L333.8,93.9 L344.4,87 M333.8,93.9 L338.1,129.6"/>
<polygon points="340.40,96.40 338.95,98.66 336.05,98.66 334.60,96.40 336.05,94.14 338.95,94.14"/>
<polygon points="340.40,94.60 338.95,96.86 336.05,96.86 334.60,94.60 336.05,92.34 338.95,92.34"/>
<circle cx="337.5" cy="94.6" r="1.30" stroke="#999"/>
<path d="M336.8,106.5 a2.2,2.2 0 0 1 4,0.5 l0.3,4.5 a2.2,2.2 0 0 1 -4,0 z"/>
<path d="M340.1,143.9 L346.8,139.8 L346.8,158.1 L340.1,160.8 Z"/>
<path d="M326.3,137.6 L333.4,134.0 L346.8,139.8 L340.1,143.9 Z"/>
<path d="M326.3,137.6 L340.1,143.9 L340.1,160.8 L336.3,159.1 L336.3,156.1 L328.5,155.9 L326.5,155.0 Z"/>
<path d="M328.5,155.9 L328.5,153.4 L340.1,147.4" fill="none"/>
<path d="M336.3,156.1 L338.3,155.1 L340.1,156.1" fill="none"/>
<circle cx="337.9" cy="157.9" r="1.5" fill="none"/>
<path d="M359.8,154.2 L366.5,150.1 L366.5,168.4 L359.8,171.1 Z"/>
<path d="M346.0,147.9 L353.1,144.3 L366.5,150.1 L359.8,154.2 Z"/>
<path d="M346.0,147.9 L359.8,154.2 L359.8,171.1 L356.0,169.4 L356.0,166.4 L348.2,166.2 L346.2,165.3 Z"/>
<path d="M348.2,166.2 L348.2,163.7 L359.8,157.7" fill="none"/>
<path d="M356.0,166.4 L358.0,165.4 L359.8,166.4" fill="none"/>
<circle cx="357.6" cy="168.2" r="1.5" fill="none"/>
<path d="M338.8,123.3 L343.8,113.3 L382.6,134.6 L382.6,141 L373.8,141.4 Z"/>
<path d="M338.8,123.3 L338.8,130.8 L369.4,145 L373.8,141.4 Z"/>
<path d="M350,123.5 L356,120.8 L360,123 L354,126 Z" fill="none"/>
<path d="M366,134.5 L374.5,130.5 L377,132 L369,136 Z" fill="none"/>
<polygon points="349.70,121.20 348.00,123.85 344.60,123.85 342.90,121.20 344.60,118.55 348.00,118.55"/>
<polygon points="349.70,119.40 348.00,122.05 344.60,122.05 342.90,119.40 344.60,116.75 348.00,116.75"/>
<circle cx="346.3" cy="119.4" r="1.53" stroke="#999"/>
<polygon points="369.10,131.20 367.40,133.85 364.00,133.85 362.30,131.20 364.00,128.55 367.40,128.55"/>
<polygon points="369.10,129.40 367.40,132.05 364.00,132.05 362.30,129.40 364.00,126.75 367.40,126.75"/>
<circle cx="365.7" cy="129.4" r="1.53" stroke="#999"/>
<path d="M371.1,140.5 L373.8,141.4 L381.3,136.5 L381.3,175.1 L372.9,179.3 L371.1,178 Z"/>
<path d="M372.9,141.2 L372.9,179.3"/>
<path d="M365.7,151 L371.1,148 M365.7,151 L365.7,171"/>
</g>


<g stroke="#6a6a6a" stroke-width="0.7" fill="#fff" stroke-linejoin="round">
<path d="M473.5,405.9 L488.4,397.0 L514.7,411.4 L514.7,437.7 L509.5,440.5 L477.0,418.0 Z" fill="#fff" stroke="none"/>
<line x1="492.3" y1="398.4" x2="514.7" y2="411.4"/>
<line x1="473.5" y1="405.9" x2="498.8" y2="420.8"/>
<line x1="473.5" y1="407.3" x2="498.8" y2="422.2" stroke="#999" stroke-width="0.5"/>
<path d="M498.8,420.8 L514.7,411.4 L514.7,437.7" fill="none"/>
<path d="M477.0,412.3 L511.7,431.7 L511.7,434.5 L509.5,436.0" fill="none"/>
<line x1="477.0" y1="416.8" x2="509.5" y2="434.0" stroke="#b4b4b4" stroke-width="1.3"/>
<path d="M502.0,423.0 L507.5,419.8 L507.5,427.0 L502.0,430.2 Z" />
<circle cx="504.6" cy="425.2" r="1.8"/>
<path d="M496.5,419.8 L500.5,422.0 L502.0,421.2" fill="none" stroke="#777" stroke-width="1.1"/>
<path d="M508.3,435.3 L508.3,456.1 L523.1,447.3 L523.1,427.1 L517.1,423.8 L517.1,428.0 L519.8,429.5 L519.8,432.0 L514.7,437.7 L511.7,434.5 Z"/>
<path d="M510.5,440.2 L523.1,447.3" fill="none"/>
<path d="M519.8,432.0 L519.8,445.5" fill="none" stroke="#999"/>
<path d="M494.7,449 L499.6,446.2 L499.6,451.1 L506.7,455.5 L506.7,468.1 L498,463.2 L494.7,463.7 Z"/>
<path d="M498,463.2 L498,457 L506.7,455.5" fill="none"/>
<path d="M444.0,423.4 L458.9,414.5 L485.2,428.9 L485.2,455.2 L480.0,458.0 L447.5,435.5 Z" fill="#fff" stroke="none"/>
<line x1="462.8" y1="415.9" x2="485.2" y2="428.9"/>
<line x1="444.0" y1="423.4" x2="469.3" y2="438.3"/>
<line x1="444.0" y1="424.8" x2="469.3" y2="439.7" stroke="#999" stroke-width="0.5"/>
<path d="M469.3,438.3 L485.2,428.9 L485.2,455.2" fill="none"/>
<path d="M447.5,429.8 L482.2,449.2 L482.2,452.0 L480.0,453.5" fill="none"/>
<line x1="447.5" y1="434.3" x2="480.0" y2="451.5" stroke="#b4b4b4" stroke-width="1.3"/>
<path d="M472.5,440.5 L478.0,437.3 L478.0,444.5 L472.5,447.7 Z" />
<circle cx="475.1" cy="442.7" r="1.8"/>
<path d="M467.0,437.3 L471.0,439.5 L472.5,438.7" fill="none" stroke="#777" stroke-width="1.1"/>
<path d="M478.8,452.8 L478.8,473.6 L493.6,464.8 L493.6,444.6 L487.6,441.3 L487.6,445.5 L490.3,447.0 L490.3,449.5 L485.2,455.2 L482.2,452.0 Z"/>
<path d="M481.0,457.7 L493.6,464.8" fill="none"/>
<path d="M490.3,449.5 L490.3,463.0" fill="none" stroke="#999"/>
<line x1="445" y1="454" x2="453.9" y2="459.8"/>
<path d="M449.5,463.9 L459.3,458.5 L459.8,462.5 L464.7,466.1 L464.7,476 L456.6,479.5 L449.5,475.9 Z"/>
<path d="M459.3,469.2 L469.2,464.3 L469.6,468.8 L476.3,472.4 L476.3,484.4 L468.3,480.4 L468.3,477.3 L459.3,480.4 Z"/>
<path d="M459.3,480.4 L476.3,472.4" fill="none"/>
<ellipse cx="458.2" cy="475" rx="1.6" ry="2.3" stroke="#555" stroke-width="0.9"/>
<rect x="457.2" y="481" width="4.4" height="11.6" fill="#e4e4e4" stroke="#8a8a8a"/>
<rect x="457.2" y="481" width="4.4" height="5.2" fill="#707070" stroke="#666"/>
<path d="M457.4,482.6 h4 M457.4,484.4 h4" stroke="#bbb" stroke-width="0.5"/>
</g>

</svg>
</body></html>
